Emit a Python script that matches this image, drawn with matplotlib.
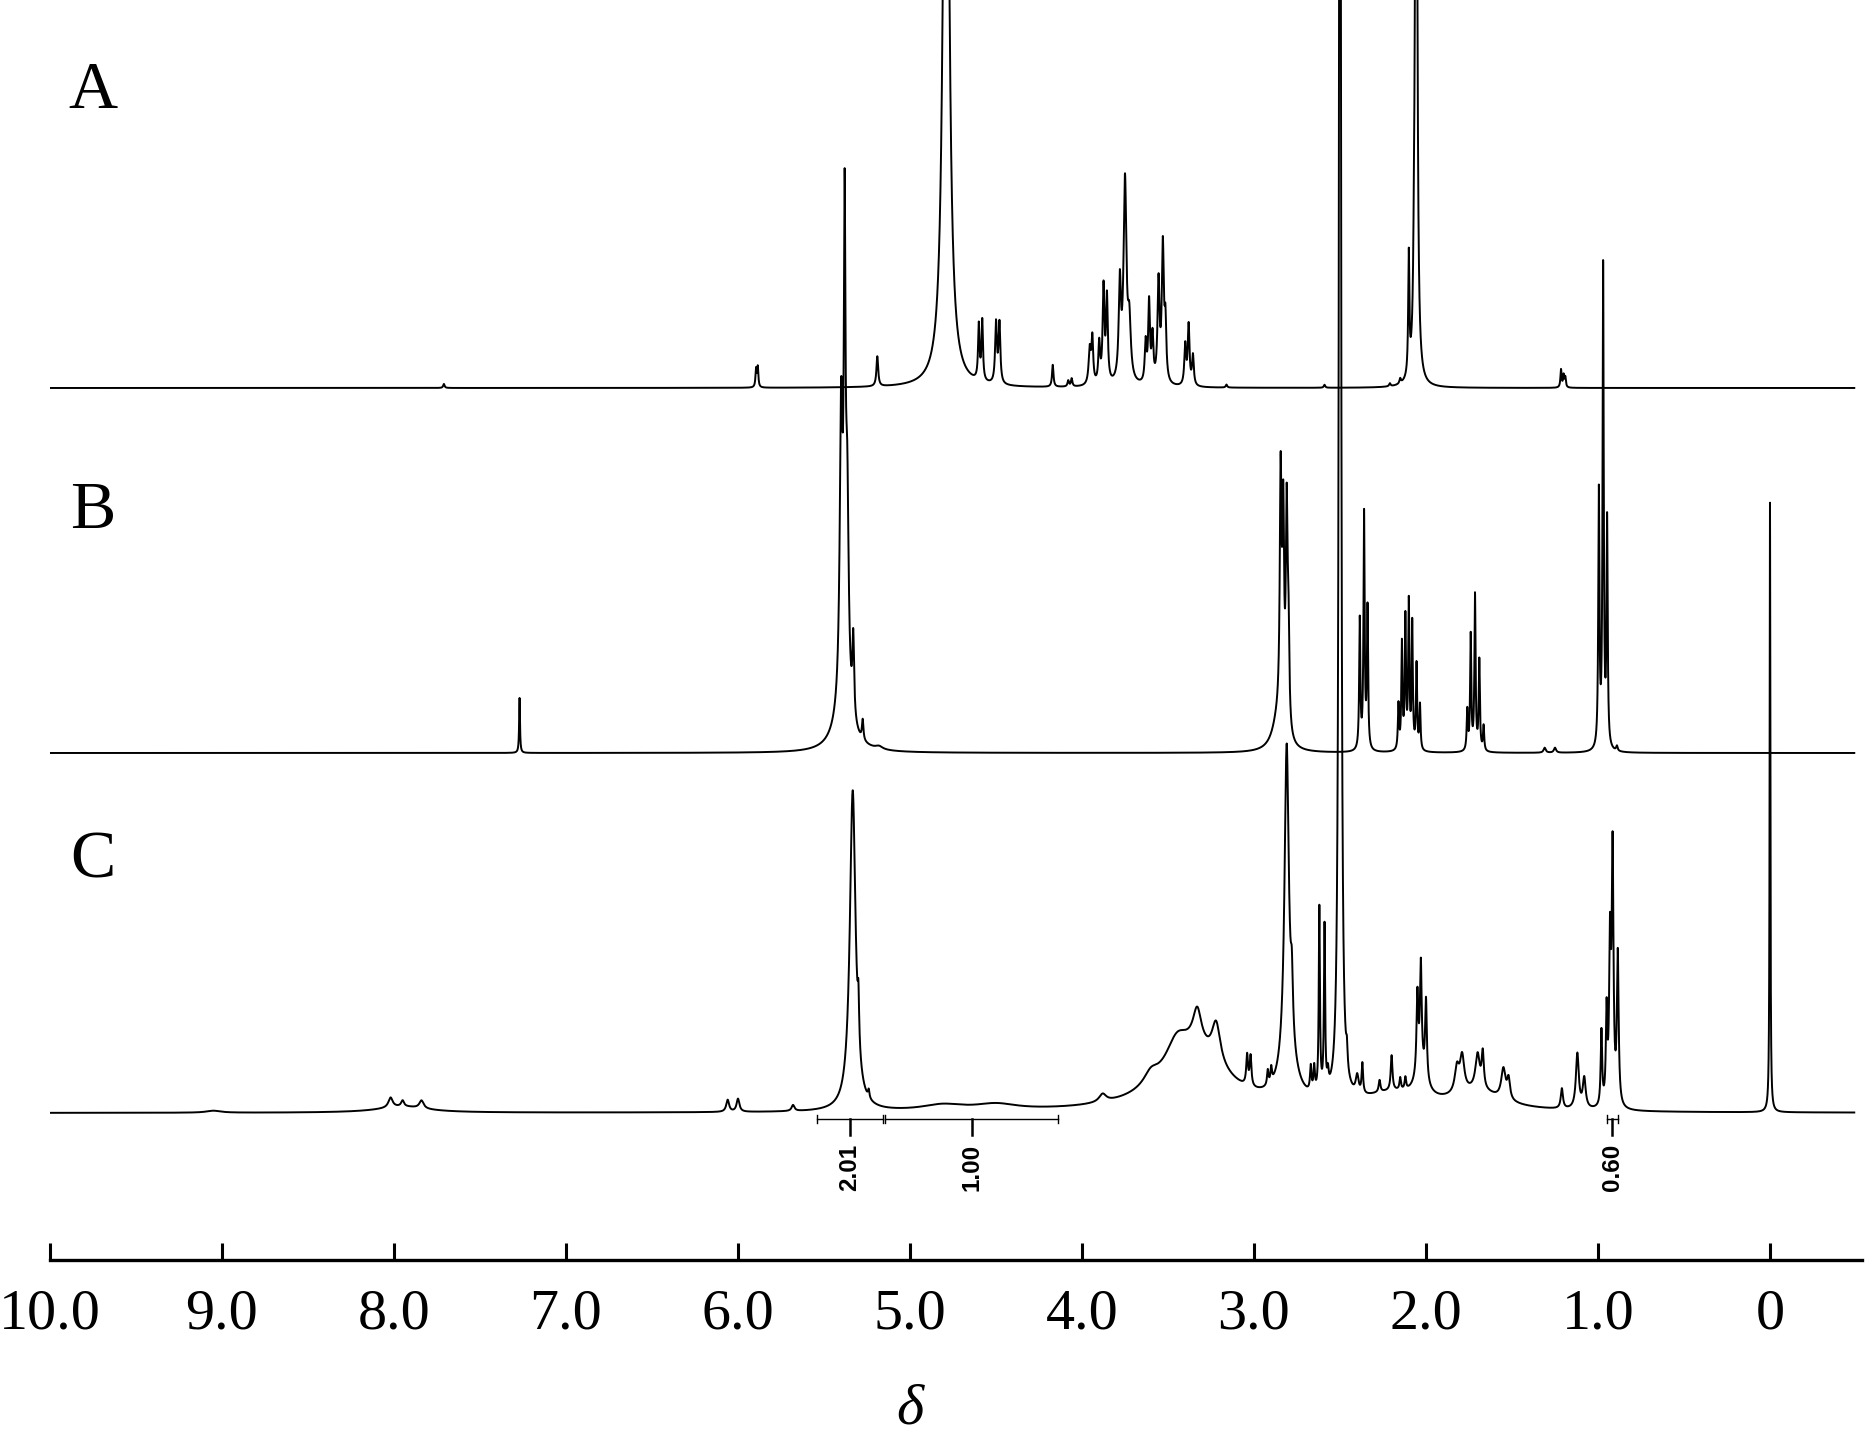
import matplotlib
matplotlib.use("Agg")
import matplotlib.pyplot as plt
import numpy as np

# chemical-shift window (ppm) drawn by the axis
X_LEFT = 10.0
X_RIGHT = -0.535
TICKS = [10.0, 9.0, 8.0, 7.0, 6.0, 5.0, 4.0, 3.0, 2.0, 1.0, 0.0]
TICK_LABELS = ["10.0", "9.0", "8.0", "7.0", "6.0", "5.0", "4.0", "3.0", "2.0", "1.0", "0"]

# spectrum A: peak shift (ppm), height, line width (ppm)
A_SHIFT = [7.71, 5.895, 5.885, 5.19, 4.79, 4.60, 4.58, 4.50, 4.48, 4.17, 4.08, 4.06,
           3.955, 3.94, 3.90, 3.875, 3.855, 3.78, 3.75, 3.725, 3.63, 3.61, 3.59, 3.555,
           3.53, 3.515, 3.40, 3.38, 3.355, 3.16, 2.59, 2.21, 2.15, 2.10, 2.07, 2.057,
           1.215, 1.20, 1.19]
A_HEIGHT = [4, 18, 20, 30, 900, 55, 60, 60, 60, 22, 6, 8,
            35, 45, 40, 95, 85, 95, 200, 55, 40, 80, 45, 100,
            135, 55, 40, 60, 30, 3, 3, 3, 5, 120, 45, 1000,
            18, 12, 10]
A_WIDTH = [0.01, 0.008, 0.008, 0.012, 0.035, 0.01, 0.01, 0.012, 0.012, 0.01, 0.01, 0.01,
           0.015, 0.012, 0.012, 0.012, 0.012, 0.015, 0.02, 0.02, 0.012, 0.012, 0.012, 0.014,
           0.014, 0.012, 0.012, 0.012, 0.012, 0.01, 0.01, 0.01, 0.01, 0.008, 0.01, 0.012,
           0.008, 0.008, 0.008]

# spectrum B
B_SHIFT = [7.27, 5.40, 5.38, 5.365, 5.33, 5.275, 5.39, 5.18,
           2.86, 2.845, 2.83, 2.81, 2.80,
           2.385, 2.36, 2.34,
           2.16, 2.14, 2.12, 2.10, 2.08, 2.055, 2.035,
           1.76, 1.74, 1.715, 1.69, 1.665,
           1.31, 1.25, 0.995, 0.97, 0.947, 0.89]
B_HEIGHT = [55, 290, 430, 200, 80, 20, 35, 3,
            30, 240, 200, 210, 95,
            130, 235, 140,
            45, 105, 130, 145, 125, 85, 45,
            40, 115, 155, 90, 25,
            5, 5, 255, 480, 225, 5]
B_WIDTH = [0.006, 0.02, 0.012, 0.02, 0.012, 0.01, 0.12, 0.05,
           0.08, 0.012, 0.012, 0.012, 0.012,
           0.008, 0.008, 0.008,
           0.008, 0.008, 0.008, 0.008, 0.008, 0.008, 0.008,
           0.008, 0.008, 0.008, 0.008, 0.008,
           0.015, 0.015, 0.008, 0.008, 0.008, 0.01]

# spectrum C
C_SHIFT = [9.05, 8.02, 7.95, 7.84, 7.95, 6.06, 6.00, 5.68,
           4.81, 4.50, 5.333, 5.30, 5.24,
           3.35, 3.88, 3.60, 3.45, 3.33, 3.22, 3.04, 3.02, 2.92, 2.90,
           2.81, 2.80, 2.78, 2.67, 2.65, 2.62, 2.59, 2.57, 2.50,
           2.46, 2.40, 2.37, 2.27, 2.20, 2.15, 2.12,
           2.05, 2.03, 2.00, 2.03, 2.20,
           1.82, 1.79, 1.70, 1.67, 1.55, 1.52, 1.70,
           1.21, 1.12, 1.08, 0.98, 0.95, 0.93, 0.915, 0.885, 0.0]
C_HEIGHT = [2, 10, 6, 8, 6, 12, 13, 6,
            6, 6, 320, 45, 8,
            60, 8, 12, 25, 35, 40, 30, 30, 15, 15,
            315, 40, 55, 25, 25, 185, 165, 15, 2000,
            20, 18, 30, 12, 35, 12, 12,
            80, 105, 80, 25, 15,
            25, 35, 35, 35, 30, 20, 18,
            20, 55, 30, 75, 90, 155, 250, 150, 610]
C_WIDTH = [0.1, 0.03, 0.02, 0.03, 0.35, 0.02, 0.02, 0.02,
           0.3, 0.3, 0.04, 0.01, 0.01,
           0.45, 0.05, 0.1, 0.15, 0.06, 0.06, 0.012, 0.012, 0.01, 0.01,
           0.03, 0.1, 0.015, 0.01, 0.01, 0.008, 0.008, 0.01, 0.012,
           0.01, 0.02, 0.01, 0.012, 0.012, 0.01, 0.01,
           0.012, 0.012, 0.012, 0.08, 0.4,
           0.03, 0.03, 0.03, 0.015, 0.03, 0.02, 0.35,
           0.015, 0.02, 0.02, 0.01, 0.01, 0.012, 0.012, 0.012, 0.005]

# vertical offsets of the three traces (same units as the peak heights)
OFFSETS = {"A": 872, "B": 507, "C": 147}

# integrals drawn under trace C
INT_START = [5.542, 5.145, 0.950]
INT_END = [5.159, 4.138, 0.884]
INT_VALUE = ["2.01", "1.00", "0.60"]


def lorentz_sum(ppm, shifts, heights, widths):
    total = np.zeros_like(ppm)
    for s, h, w in zip(shifts, heights, widths):
        total += h / (1.0 + ((ppm - s) / (w / 2.0)) ** 2)
    return total


fig = plt.figure(figsize=(18.67, 14.34), dpi=100)
ax = fig.add_axes([50 / 1867, 174 / 1434, 1812 / 1867, 1 - 174 / 1434])
ax.set_xlim(X_LEFT, X_RIGHT)
ax.set_ylim(0, 1260)

ppm = np.linspace(10.0, -0.49, 60000)
traces = {
    "A": (A_SHIFT, A_HEIGHT, A_WIDTH),
    "B": (B_SHIFT, B_HEIGHT, B_WIDTH),
    "C": (C_SHIFT, C_HEIGHT, C_WIDTH),
}
for name, (s, h, w) in traces.items():
    y = OFFSETS[name] + lorentz_sum(ppm, s, h, w)
    ax.plot(ppm, y, color="black", lw=1.4)

label_y = {"A": 1168, "B": 748, "C": 399}
serif = "Liberation Serif"
for name, yy in label_y.items():
    ax.text(9.75, yy, name, ha="center", va="center", fontsize=49, family=serif)

# integral brackets
bar_y = OFFSETS["C"] - 6
for a, b, v in zip(INT_START, INT_END, INT_VALUE):
    ax.plot([a, b], [bar_y, bar_y], color="black", lw=1.0)
    for e in (a, b):
        ax.plot([e, e], [bar_y - 4, bar_y + 4], color="black", lw=1.0)
    mid = (a + b) / 2
    ax.plot([mid, mid], [bar_y, bar_y - 16], color="black", lw=1.8)
    ax.text(mid, bar_y - 48, v, rotation=90, ha="center", va="center",
            fontsize=17.5, family="Liberation Sans", fontweight="bold")

for side in ("left", "right", "top"):
    ax.spines[side].set_visible(False)
ax.spines["bottom"].set_linewidth(2.4)
ax.set_yticks([])
ax.set_xticks(TICKS)
ax.set_xticklabels(TICK_LABELS, family=serif, fontsize=41.8)
ax.tick_params(axis="x", direction="in", length=12.2, width=2.2, pad=20.5)

fig.text(910 / 1867, 11 / 1434, "δ", ha="center", va="baseline",
         fontsize=42, family=serif, style="italic")

fig.savefig("out.png", dpi=100)
